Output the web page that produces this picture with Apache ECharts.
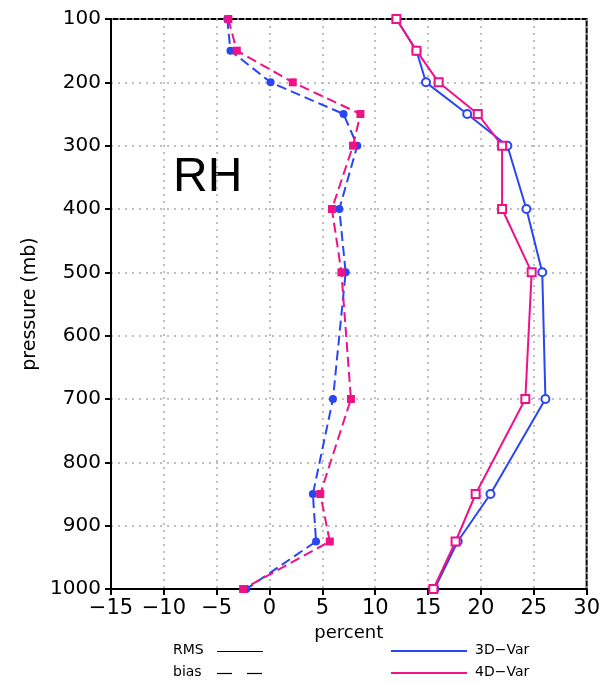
<!DOCTYPE html>
<html>
<head>
<meta charset="utf-8">
<script src="https://cdn.jsdelivr.net/npm/echarts@6/dist/echarts.min.js"></script>
<style>
  html, body { margin: 0; padding: 0; background: #fff; }
  #chart { width: 603px; height: 683px; }
</style>
</head>
<body>
<div id="chart"></div>
<script>
  // pressure levels (mb)
  var levels = [100, 150, 200, 250, 300, 400, 500, 700, 850, 925, 1000];

  // RH verification, percent
  var bias3d = [-4.0, -3.7, 0.1, 7.0, 8.3, 6.6, 7.2, 6.0, 4.1, 4.4, -2.2];
  var bias4d = [-3.9, -3.1, 2.2, 8.6, 7.9, 5.9, 6.8, 7.7, 4.8, 5.7, -2.5];
  var rms3d = [12.0, 13.9, 14.8, 18.7, 22.5, 24.3, 25.8, 26.1, 20.9, 17.8, 15.6];
  var rms4d = [12.0, 13.9, 16.0, 19.7, 22.0, 22.0, 24.8, 24.2, 19.5, 17.6, 15.5];

  var blue = "#2a46f2";
  var pink = "#ee1188";
  var font = "DejaVu Sans";

  function pairs(vals) {
    return vals.map(function (v, i) { return [v, levels[i]]; });
  }

  function line(name, vals, color, dashed, symbol, filled) {
    return {
      name: name,
      type: "line",
      data: pairs(vals),
      symbol: symbol,
      symbolSize: 8,
      showAllSymbol: true,
      z: 5,
      lineStyle: { color: color, width: 2, type: dashed ? [10, 5] : "solid" },
      itemStyle: {
        color: filled ? color : "#fff",
        borderColor: color,
        borderWidth: filled ? 0 : 2
      }
    };
  }

  var chart = echarts.init(document.getElementById("chart"));
  chart.setOption({
    animation: false,
    grid: {
      left: 111, right: 14, top: 19, bottom: 94,
      show: true, borderColor: "#000", borderWidth: 2
    },
    xAxis: {
      type: "value", min: -15, max: 30, interval: 5,
      name: "percent", nameLocation: "middle", nameGap: 34,
      nameTextStyle: { color: "#000", fontFamily: font, fontSize: 18 },
      axisLine: { show: true, onZero: false, lineStyle: { color: "#000", width: 2 } },
      axisTick: { show: true, length: 6, lineStyle: { color: "#000", width: 2 } },
      axisLabel: {
        color: "#000", fontFamily: font, fontSize: 21, margin: 9,
        formatter: function (v) { return String(v).replace("-", "\u2212"); }
      },
      splitLine: { show: true, lineStyle: { color: "#aaa", type: [2, 5], width: 1.5 } }
    },
    yAxis: {
      type: "value", inverse: true, min: 100, max: 1000, interval: 100,
      name: "pressure (mb)", nameLocation: "middle", nameGap: 70, nameRotate: 90,
      nameTextStyle: { color: "#000", fontFamily: font, fontSize: 19 },
      axisLine: { show: true, onZero: false, lineStyle: { color: "#000", width: 2 } },
      axisTick: { show: true, length: 6, lineStyle: { color: "#000", width: 2 } },
      axisLabel: {
        color: "#000", fontFamily: font, fontSize: 20, margin: 10,
        formatter: function (v) { return String(v); }
      },
      splitLine: { show: true, lineStyle: { color: "#aaa", type: [2, 5], width: 1.5 } }
    },
    graphic: [
      { type: "text", left: 173, top: 154, style: { text: "RH", font: "48px Liberation Sans", fill: "#000" } },
      { type: "text", left: 173, top: 643, style: { text: "RMS", font: "14px " + font, fill: "#000" } },
      { type: "line", shape: { x1: 217, y1: 651.5, x2: 263, y2: 651.5 }, style: { stroke: "#000", lineWidth: 1.2 } },
      { type: "text", left: 173, top: 665, style: { text: "bias", font: "14px " + font, fill: "#000" } },
      { type: "line", shape: { x1: 217, y1: 673.5, x2: 263, y2: 673.5 }, style: { stroke: "#000", lineWidth: 1.2, lineDash: [15, 15] } },
      { type: "line", shape: { x1: 391, y1: 651, x2: 467, y2: 651 }, style: { stroke: blue, lineWidth: 2 } },
      { type: "text", left: 475, top: 643, style: { text: "3D\u2212Var", font: "14px " + font, fill: "#000" } },
      { type: "line", shape: { x1: 391, y1: 673, x2: 467, y2: 673 }, style: { stroke: pink, lineWidth: 2 } },
      { type: "text", left: 475, top: 665, style: { text: "4D\u2212Var", font: "14px " + font, fill: "#000" } }
    ],
    series: [
      line("3D-Var bias", bias3d, blue, true, "circle", true),
      line("4D-Var bias", bias4d, pink, true, "rect", true),
      line("3D-Var RMS", rms3d, blue, false, "circle", false),
      line("4D-Var RMS", rms4d, pink, false, "rect", false)
    ]
  });
</script>
</body>
</html>
